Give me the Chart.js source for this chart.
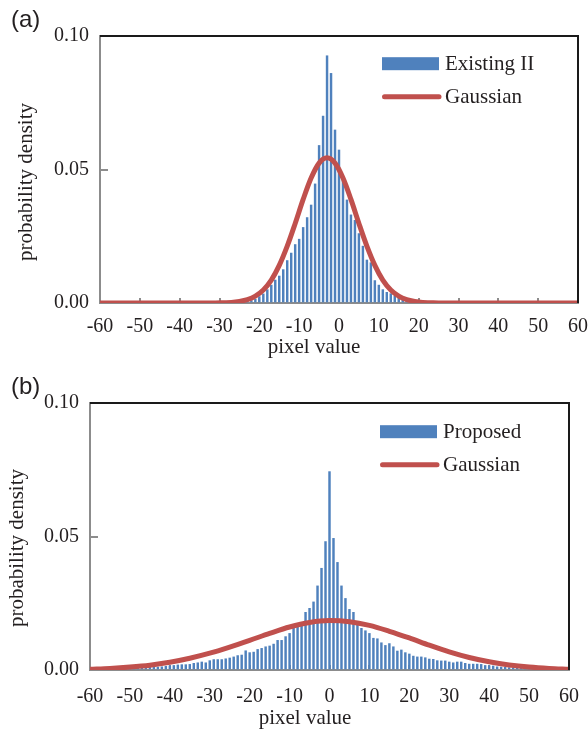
<!DOCTYPE html>
<html>
<head>
<meta charset="utf-8">
<script src="https://cdn.jsdelivr.net/npm/chart.js@4.4.1/dist/chart.umd.min.js"></script>
<style>
	body { margin: 0; background: #fff; }
	.panel { position: absolute; left: 0; width: 588px; height: 367px; }
</style>
</head>
<body>
<div class="panel" style="top:0"><canvas id="chartA" width="588" height="367"></canvas></div>
<div class="panel" style="top:367px"><canvas id="chartB" width="588" height="367"></canvas></div>
<script>
// pixel value bins (x axis)
const pixelValue = [
	-60, -59, -58, -57, -56, -55, -54, -53, -52, -51,
	-50, -49, -48, -47, -46, -45, -44, -43, -42, -41,
	-40, -39, -38, -37, -36, -35, -34, -33, -32, -31,
	-30, -29, -28, -27, -26, -25, -24, -23, -22, -21,
	-20, -19, -18, -17, -16, -15, -14, -13, -12, -11,
	-10, -9, -8, -7, -6, -5, -4, -3, -2, -1,
	0, 1, 2, 3, 4, 5, 6, 7, 8, 9,
	10, 11, 12, 13, 14, 15, 16, 17, 18, 19,
	20, 21, 22, 23, 24, 25, 26, 27, 28, 29,
	30, 31, 32, 33, 34, 35, 36, 37, 38, 39,
	40, 41, 42, 43, 44, 45, 46, 47, 48, 49,
	50, 51, 52, 53, 54, 55, 56, 57, 58, 59, 60
];

// (a) Existing II histogram
const existingII = [
	0, 0, 0, 0, 0, 0, 0, 0, 0, 0,
	0, 0, 0, 0, 0, 0, 0, 0, 0, 0,
	0, 0, 0, 0, 0, 0, 0, 0, 0, 0,
	0, 0, 0, 0, 0.0001, 0.0002, 0.0003, 0.0005, 0.0009, 0.0014,
	0.0024, 0.0034, 0.0050, 0.0067, 0.0086, 0.0101, 0.0125, 0.0159, 0.0187, 0.0219,
	0.0239, 0.0283, 0.0320, 0.0367, 0.0446, 0.0590, 0.0700, 0.0926, 0.0860, 0.0648,
	0.0573, 0.0470, 0.0386, 0.0330, 0.0310, 0.0260, 0.0213, 0.0161, 0.0151, 0.0084,
	0.0067, 0.0050, 0.0040, 0.0035, 0.0026, 0.0019, 0.0013, 0.0008, 0.0005, 0.0003,
	0.0002, 0, 0, 0, 0, 0, 0, 0, 0, 0,
	0, 0, 0, 0, 0, 0, 0, 0, 0, 0,
	0, 0, 0, 0, 0, 0, 0, 0, 0, 0,
	0, 0, 0, 0, 0, 0, 0, 0, 0, 0, 0
];

// (b) Proposed histogram
const proposed = [
	0.0002, 0.0002, 0.0002, 0.0003, 0.0003, 0.0003, 0.0004, 0.0004, 0.0004, 0.0005,
	0.0005, 0.0006, 0.0006, 0.0007, 0.0009, 0.0010, 0.0010, 0.0011, 0.0012, 0.0014,
	0.0016, 0.0017, 0.0019, 0.0020, 0.0020, 0.0021, 0.0025, 0.0027, 0.0030, 0.0027,
	0.0035, 0.0039, 0.0039, 0.0039, 0.0042, 0.0045, 0.0049, 0.0054, 0.0056, 0.0072,
	0.0065, 0.0067, 0.0077, 0.0081, 0.0087, 0.0090, 0.0097, 0.0111, 0.0111, 0.0125,
	0.0137, 0.0156, 0.0162, 0.0169, 0.0216, 0.0231, 0.0255, 0.0315, 0.0381, 0.0481,
	0.0743, 0.0493, 0.0403, 0.0315, 0.0268, 0.0227, 0.0216, 0.0169, 0.0156, 0.0147,
	0.0137, 0.0119, 0.0117, 0.0102, 0.0092, 0.0099, 0.0087, 0.0071, 0.0075, 0.0065,
	0.0060, 0.0052, 0.0049, 0.0049, 0.0046, 0.0041, 0.0040, 0.0035, 0.0034, 0.0034,
	0.0030, 0.0027, 0.0030, 0.0030, 0.0025, 0.0022, 0.0022, 0.0022, 0.0021, 0.0017,
	0.0016, 0.0015, 0.0012, 0.0011, 0.0010, 0.0009, 0.0008, 0.0007, 0.0006, 0.0006,
	0.0005, 0.0004, 0.0004, 0.0003, 0.0003, 0.0003, 0.0002, 0.0002, 0.0002, 0.0002, 0.0002
];

// Gaussian fit curves
const gaussAX = [-60, -31, -29, -27, -25, -23, -21, -19, -17, -15, -13, -11, -9, -7, -5, -3,
	-1, 1, 3, 5, 7, 9, 11, 13, 15, 17, 19, 21, 23, 25, 60];
const gaussAY = [0, 0, 0.0001, 0.0002, 0.0006, 0.0013, 0.0026, 0.0049, 0.0086, 0.0141, 0.0213, 0.0298, 0.0388, 0.0468, 0.0524, 0.0544,
	0.0524, 0.0468, 0.0388, 0.0298, 0.0213, 0.0141, 0.0086, 0.0049, 0.0026, 0.0013, 0.0006, 0.0002, 0.0001, 0, 0];

const gaussBX = [-60, -55, -50, -45, -40, -35, -30, -25, -20, -15, -10, -5, 0,
	5, 10, 15, 20, 25, 30, 35, 40, 45, 50, 55, 60];
const gaussBY = [0.0003, 0.0006, 0.0011, 0.0018, 0.0029, 0.0044, 0.0063, 0.0086, 0.0111, 0.0137, 0.0161, 0.0178, 0.0185,
	0.0181, 0.0167, 0.0145, 0.0120, 0.0093, 0.0068, 0.0047, 0.0031, 0.0019, 0.0011, 0.0006, 0.0003];

const yTicks = [0, 0.05, 0.10];

const barBlue = '#4f81bd';
const fitRed = '#c0504d';
const axisGray = '#8c8c8c';
const textColor = '#231f20';
const serif = '"Liberation Serif", "Times New Roman", serif';

// frame, panel letter, axis titles and in-plot legend
const panelDecor = {
	id: 'panelDecor',
	afterDraw(chart, args, o) {
		const { ctx, chartArea: a } = chart;
		const ds = chart.data.datasets;
		ctx.save();
		ctx.strokeStyle = '#1a1a1a';
		ctx.lineWidth = 2;
		ctx.beginPath();
		ctx.moveTo(a.left, a.top);
		ctx.lineTo(a.right, a.top);
		ctx.lineTo(a.right, a.bottom);
		ctx.stroke();

		ctx.fillStyle = textColor;
		ctx.font = '24px "Liberation Sans", Arial, sans-serif';
		ctx.textAlign = 'left';
		ctx.textBaseline = 'middle';
		ctx.fillText(o.letter, 11, 20);

		ctx.font = '21px ' + serif;
		ctx.textAlign = 'center';
		ctx.textBaseline = 'alphabetic';
		ctx.fillText(o.xTitle, o.xTitleX, o.xTitleY);
		ctx.save();
		ctx.translate(o.yTitleX, o.yTitleY);
		ctx.rotate(-Math.PI / 2);
		ctx.textBaseline = 'middle';
		ctx.fillText(o.yTitle, 0, 0);
		ctx.restore();

		const lx = a.left + o.legendX;
		const ly = a.top + o.legendY;
		ctx.fillStyle = ds[0].backgroundColor;
		ctx.fillRect(lx, ly - 6.5, 57, 13);
		ctx.strokeStyle = ds[1].borderColor;
		ctx.lineWidth = 5;
		ctx.lineCap = 'round';
		ctx.beginPath();
		ctx.moveTo(lx + 2.5, ly + 33);
		ctx.lineTo(lx + 57, ly + 33);
		ctx.stroke();
		ctx.fillStyle = textColor;
		ctx.textAlign = 'left';
		ctx.textBaseline = 'middle';
		ctx.font = '21px ' + serif;
		ctx.fillText(ds[0].label, lx + 63, ly + 1);
		ctx.fillText(ds[1].label, lx + 63, ly + 34);
		ctx.restore();
	}
};

function histogramChart(id, barLabel, bars, gx, gy, p) {
	let chartID = document.getElementById(id);
	new Chart(chartID, {
		type: 'bar',
		data: {
			datasets: [
			{
				type: 'bar',
				label: barLabel,
				data: pixelValue.map((x, i) => ({ x: x, y: bars[i] })),
				backgroundColor: barBlue,
				barThickness: 1.8,
				order: 2
			},
			{
				type: 'line',
				label: 'Gaussian',
				data: gx.map((x, i) => ({ x: x, y: gy[i] })),
				borderColor: fitRed,
				borderWidth: 5,
				borderCapStyle: 'round',
				pointRadius: 0,
				cubicInterpolationMode: 'monotone',
				order: 1
			},
		]
		},
		options: {
			responsive: false,
			animation: false,
			layout: { padding: { top: 36, left: 0, right: p.padRight, bottom: 0 } },
			plugins: {
				legend: { display: false },
				tooltip: { enabled: false },
				panelDecor: p
			},
			scales: {
				x: {
					type: 'linear',
					min: -60,
					max: 60,
					offset: false,
					afterFit: s => { s.height = 64; },
					border: { color: axisGray, width: 2 },
					grid: { drawOnChartArea: false, offset: false, tickLength: -5, color: axisGray, lineWidth: 2 },
					ticks: {
						stepSize: 10,
						padding: 0,
						autoSkip: false,
						maxRotation: 0,
						color: textColor,
						// tall line box pushes the labels down without widening the side padding
						font: { family: serif, size: 20, lineHeight: p.xLine }
					}
				},
				y: {
					min: 0,
					max: 0.1,
					afterFit: s => { s.width = p.yWidth; },
					afterBuildTicks: s => { s.ticks = yTicks.map(v => ({ value: v })); },
					border: { color: axisGray, width: 2 },
					grid: { drawOnChartArea: false, tickLength: -8, color: axisGray, lineWidth: 2 },
					ticks: {
						padding: 19,
						color: textColor,
						font: { family: serif, size: 20 },
						callback: v => v.toFixed(2)
					}
				}
			}
		},
		plugins: [panelDecor]
	});
}

histogramChart('chartA', 'Existing II', existingII, gaussAX, gaussAY, {
	letter: '(a)', xTitle: 'pixel value', yTitle: 'probability density',
	yWidth: 100, padRight: 10, xLine: 2.87,
	xTitleX: 314, xTitleY: 353, yTitleX: 26, yTitleY: 182,
	legendX: 282, legendY: 27.7
});

histogramChart('chartB', 'Proposed', proposed, gaussBX, gaussBY, {
	letter: '(b)', xTitle: 'pixel value', yTitle: 'probability density',
	yWidth: 90, padRight: 19, xLine: 3.17,
	xTitleX: 305, xTitleY: 357, yTitleX: 17, yTitleY: 181,
	legendX: 290, legendY: 28.7
});
</script>
</body>
</html>
